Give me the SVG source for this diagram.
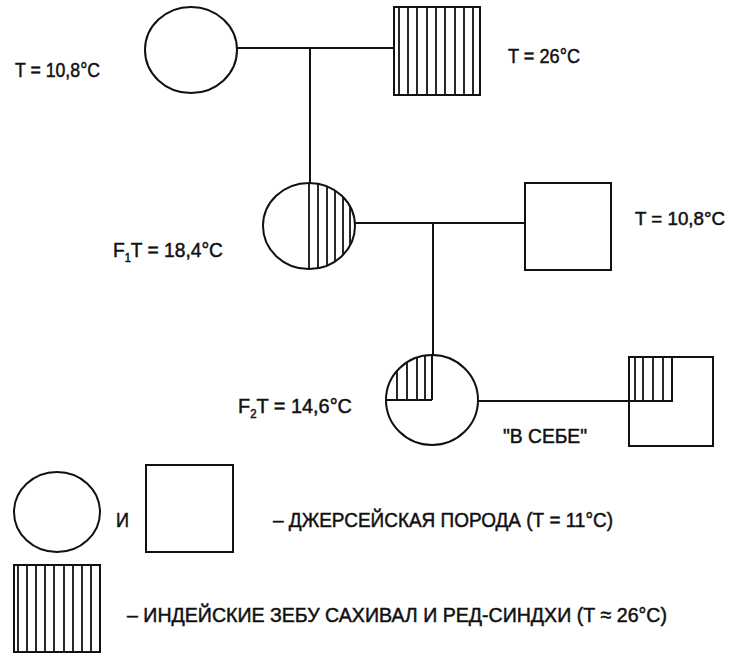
<svg xmlns="http://www.w3.org/2000/svg" width="733" height="655" viewBox="0 0 733 655">
<style>
.s{fill:none;stroke:#111;stroke-width:2}
.h{stroke:#111;stroke-width:1.8}
.t{font-family:"Liberation Sans","DejaVu Sans",sans-serif;font-size:21px;fill:#111;stroke:#111;stroke-width:0.5}
</style>
<defs>
<clipPath id="c1"><ellipse cx="309" cy="226" rx="46" ry="43"/></clipPath>
<clipPath id="c2"><ellipse cx="432" cy="400" rx="46" ry="45"/></clipPath>
</defs>
<rect width="733" height="655" fill="#fff"/>
<g id="connectors">
<line class="s" x1="237" y1="48" x2="394" y2="48"/>
<line class="s" x1="310" y1="48" x2="310" y2="183"/>
<line class="s" x1="355" y1="223" x2="525" y2="223"/>
<line class="s" x1="433" y1="223" x2="433" y2="355"/>
<line class="s" x1="478" y1="401" x2="629" y2="401"/>
</g>
<g id="p-female">
<ellipse class="s" cx="191" cy="50" rx="46" ry="43"/>
<text class="t" x="15" y="77" textLength="85" lengthAdjust="spacingAndGlyphs">T = 10,8°C</text>
</g>
<g id="p-male">
<rect class="s" x="394" y="7" width="86" height="88"/>
<g class="h">
<line x1="399" y1="7" x2="399" y2="95"/><line x1="408" y1="7" x2="408" y2="95"/>
<line x1="417" y1="7" x2="417" y2="95"/><line x1="427" y1="7" x2="427" y2="95"/>
<line x1="436" y1="7" x2="436" y2="95"/><line x1="445" y1="7" x2="445" y2="95"/>
<line x1="455" y1="7" x2="455" y2="95"/><line x1="464" y1="7" x2="464" y2="95"/>
<line x1="473" y1="7" x2="473" y2="95"/>
</g>
<text class="t" x="508" y="63" textLength="72" lengthAdjust="spacingAndGlyphs">T = 26°C</text>
</g>
<g id="f1">
<g class="h" clip-path="url(#c1)">
<line x1="309" y1="183" x2="309" y2="269"/><line x1="318" y1="183" x2="318" y2="269"/>
<line x1="327" y1="183" x2="327" y2="269"/><line x1="335" y1="183" x2="335" y2="269"/>
<line x1="343" y1="183" x2="343" y2="269"/><line x1="350" y1="183" x2="350" y2="269"/>
</g>
<ellipse class="s" cx="309" cy="226" rx="46" ry="43"/>
<text class="t" x="113" y="257" textLength="110" lengthAdjust="spacingAndGlyphs">F<tspan font-size="12" dy="5">1</tspan><tspan dy="-5">T = 18,4°C</tspan></text>
</g>
<g id="f1-mate">
<rect class="s" x="525" y="183" width="86" height="87"/>
<text class="t" x="635" y="225" font-size="19" style="font-size:19px" textLength="90" lengthAdjust="spacingAndGlyphs">T = 10,8°C</text>
</g>
<g id="f2">
<g class="h" clip-path="url(#c2)">
<line x1="397" y1="355" x2="397" y2="400"/><line x1="407" y1="355" x2="407" y2="400"/>
<line x1="417" y1="355" x2="417" y2="400"/><line x1="425" y1="355" x2="425" y2="400"/>
</g>
<line class="s" x1="432" y1="355" x2="432" y2="400"/>
<line class="s" x1="386" y1="400" x2="432" y2="400"/>
<ellipse class="s" cx="432" cy="400" rx="46" ry="45"/>
<text class="t" x="238" y="413" textLength="114" lengthAdjust="spacingAndGlyphs">F<tspan font-size="12" dy="5">2</tspan><tspan dy="-5">T = 14,6°C</tspan></text>
</g>
<g id="f2-mate">
<rect class="s" x="629" y="357" width="84" height="89"/>
<rect class="s" x="629" y="357" width="43" height="44"/>
<g class="h">
<line x1="635" y1="357" x2="635" y2="401"/><line x1="643" y1="357" x2="643" y2="401"/>
<line x1="653" y1="357" x2="653" y2="401"/><line x1="663" y1="357" x2="663" y2="401"/>
</g>
<text class="t" x="503" y="443" textLength="84" lengthAdjust="spacingAndGlyphs">"В СЕБЕ"</text>
</g>
<g id="legend">
<ellipse class="s" cx="57" cy="512" rx="43" ry="40"/>
<text class="t" x="116" y="527" textLength="13" lengthAdjust="spacingAndGlyphs">И</text>
<rect class="s" x="146" y="465" width="87" height="87"/>
<text class="t" x="273" y="527" textLength="340" lengthAdjust="spacingAndGlyphs">– ДЖЕРСЕЙСКАЯ ПОРОДА (Т = 11°С)</text>
<rect class="s" x="14" y="565" width="86" height="87"/>
<g class="h">
<line x1="18" y1="565" x2="18" y2="652"/><line x1="27" y1="565" x2="27" y2="652"/>
<line x1="36" y1="565" x2="36" y2="652"/><line x1="45" y1="565" x2="45" y2="652"/>
<line x1="54" y1="565" x2="54" y2="652"/><line x1="64" y1="565" x2="64" y2="652"/>
<line x1="73" y1="565" x2="73" y2="652"/><line x1="82" y1="565" x2="82" y2="652"/>
<line x1="91" y1="565" x2="91" y2="652"/>
</g>
<text class="t" x="127" y="622" textLength="540" lengthAdjust="spacingAndGlyphs">– ИНДЕЙСКИЕ ЗЕБУ САХИВАЛ И РЕД-СИНДХИ (Т ≈ 26°С)</text>
</g>
</svg>
